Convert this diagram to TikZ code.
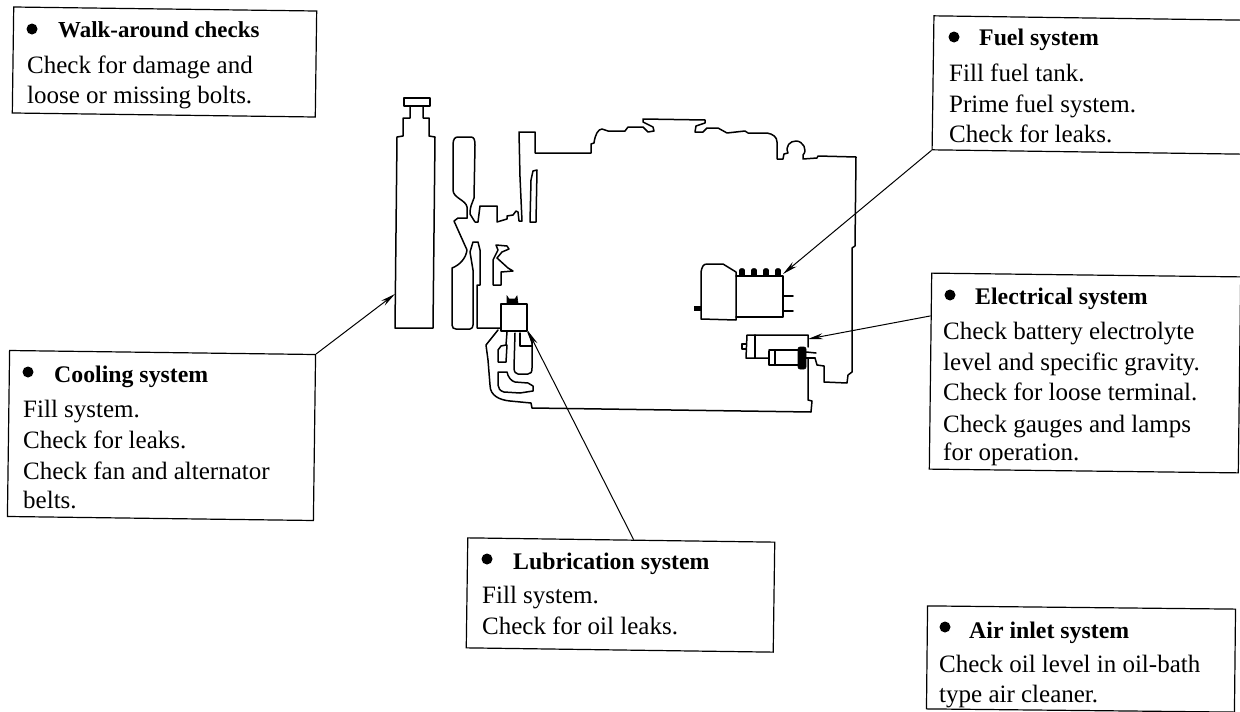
\documentclass[tikz,border=0pt]{standalone}
\usepackage{fontspec}
\setmainfont{Liberation Serif}
\usetikzlibrary{arrows.meta,calc}
\tikzset{
  x=1pt,y=-1pt,
  boxnode/.style={draw=black,line width=1.2pt,inner sep=0pt,fill=none},
  head/.style={anchor=base west,inner sep=0pt,font=\fontsize{23.8}{24}\selectfont\bfseries},
  headsmall/.style={anchor=base west,inner sep=0pt,font=\fontsize{22.9}{24}\selectfont\bfseries},
  body/.style={anchor=base west,inner sep=0pt,font=\fontsize{25}{25}\selectfont},
  bulletdot/.style={circle,fill=black,inner sep=0pt,minimum size=11pt},
  eng/.style={line width=1.5pt,line join=round,line cap=round},
  blk/.style={fill=black,draw=black,line width=.6pt},
  lead/.style={line width=1pt,-{Stealth[length=15pt,width=6pt]}}
}
\begin{document}
\begin{tikzpicture}
\useasboundingbox (0,0) rectangle (1240,712);
% boxes
\node[boxnode,minimum width=303pt,minimum height=106pt,rotate=-.76] (walk) at (164.5,62) {};
\node[boxnode,minimum width=306pt,minimum height=166pt,rotate=-.75] (cool) at (161.5,435.5) {};
\node[boxnode,minimum width=307pt,minimum height=110pt,rotate=-.8] (lub) at (620.5,595) {};
\node[boxnode,minimum width=312pt,minimum height=134pt,rotate=-.8] (fuel) at (1089,85) {};
\node[boxnode,minimum width=309pt,minimum height=196pt,rotate=-.7] (elec) at (1085,373) {};
\node[boxnode,minimum width=308pt,minimum height=103pt,rotate=-.6] (air) at (1081,659) {};
% Walk
\node[bulletdot] (w0) at (32,29) {};
\node[headsmall] (w1) at (58,37) {Walk-around checks};
\node[body] (w2) at (27,73) {Check for damage and};
\node[body] (w3) at (27,103) {loose or missing bolts.};
% Cooling
\node[bulletdot] (c0) at (28,372) {};
\node[head] (c1) at (54,382) {Cooling system};
\node[body] (c2) at (23,417) {Fill system.};
\node[body] (c3) at (23,448) {Check for leaks.};
\node[body] (c4) at (23,479) {Check fan and alternator};
\node[body] (c5) at (23,508) {belts.};
% Lubrication
\node[bulletdot] (l0) at (487,559) {};
\node[head] (l1) at (513,569) {Lubrication system};
\node[body] (l2) at (482,603) {Fill system.};
\node[body] (l3) at (482,634) {Check for oil leaks.};
% Fuel
\node[bulletdot] (f0) at (954,37) {};
\node[head] (f1) at (979,45) {Fuel system};
\node[body] (f2) at (949,81) {Fill fuel tank.};
\node[body] (f3) at (949,112) {Prime fuel system.};
\node[body] (f4) at (949,142) {Check for leaks.};
% Electrical
\node[bulletdot] (e0) at (950,295) {};
\node[head] (e1) at (975,304) {Electrical system};
\node[body] (e2) at (943,339) {Check battery electrolyte};
\node[body] (e3) at (943,370) {level and specific gravity.};
\node[body] (e4) at (943,400) {Check for loose terminal.};
\node[body] (e5) at (943,432) {Check gauges and lamps};
\node[body] (e6) at (943,460) {for operation.};
% Air
\node[bulletdot] (a0) at (945,627) {};
\node[head] (a1) at (969,638) {Air inlet system};
\node[body] (a2) at (939,672) {Check oil level in oil-bath};
\node[body] (a3) at (939,702) {type air cleaner.};
% radiator
\draw[eng] (395,328) -- (397,137) -- (403,136) -- (403,118) -- (410,118) -- (410,106) -- (423,106) -- (423,118) -- (429,118) -- (429,136) -- (435,137) -- (433,328) -- cycle;
\draw[eng] (404,98) rectangle (430,106);
% shroud and engine top, running round to the lower right
\draw[eng] (467,218) -- (467,207) .. controls (466,200) and (453,198) .. (453,190) -- (453,145) .. controls (453,139) and (455,137) .. (458,137) -- (471,137) .. controls (474,137) and (475,140) .. (475,145) -- (474,198) .. controls (472,204) and (470,206) .. (470,214) -- (475,222) -- (478,222) -- (480,206) -- (497,206) -- (497,222) -- (507,219) -- (507,216) -- (513,215) -- (516,211) -- (518,212) -- (519,221) -- (522,221) -- (520,177) -- (519,132) -- (535,132) -- (535,153) -- (591,153) -- (591,144) -- (594,143) .. controls (595,135) and (598,129) .. (602,129) -- (608,131) -- (625,131) -- (628,127) -- (643,127) -- (648,132) -- (654,131) -- (653,127) -- (643,122) -- (643,119) -- (705,120) -- (705,123) -- (696,126) -- (695,132) -- (703,132) -- (707,128) -- (718,128) -- (727,133) -- (745,131) -- (748,133) -- (767,133) .. controls (773,134) and (777,137) .. (777,142) -- (777,159) -- (783,159) -- (784,154) -- (788,153) .. controls (785,146) and (790,141) .. (796,141) .. controls (803,141) and (808,150) .. (803,155) -- (803,159) -- (817,158) -- (818,156) -- (856,157) -- (855,246) -- (852,248) -- (852,372) -- (848,375) -- (847,383) -- (824,382) -- (824,366) -- (817,365) -- (815,358) -- (808,358);
\draw[eng] (808,358) -- (808,400) -- (812,401) -- (811,412) -- (532,408) -- (531,403) -- (510,401) .. controls (500,400) and (490,396) .. (490,385) -- (488,360) -- (486,345) -- (498,330);
% lower shroud
\draw[eng] (467,218) -- (458,218) -- (454,221) -- (467,250) .. controls (466,258) and (460,265) .. (452,268) -- (452,325) .. controls (452,328) and (454,329) .. (456,329) -- (470,329) .. controls (472,329) and (473,327) .. (473,325) -- (473,270) -- (470,252) -- (473,242) -- (478,242) -- (480,250) -- (480,285) -- (477,285) -- (477,328) -- (501,328);
% thin bar
\draw[eng] (530,222) -- (531,180) -- (533,171) -- (537,170) -- (536,222) -- cycle;
% hook
\draw[eng] (493,285) -- (493,260) -- (498,250) -- (496,245) -- (507,246) -- (509,249) -- (502,252) -- (497,258) -- (508,268) -- (513,271) -- (501,272) -- (501,285) -- cycle;
% oil filter
\draw[eng,line width=1.8pt] (501,304) rectangle (527,331);
\fill[blk] (507,296) -- (509,299) -- (515,299) -- (517,296) -- (518,303) -- (507,303) -- cycle;
\draw[eng] (507,332) -- (506,345) -- (501,346) -- (498,350) -- (498,362) -- (506,362) -- (507,345);
\draw[eng] (515,333) -- (514,368) .. controls (514,372) and (516,374) .. (518,374) -- (528,374) .. controls (531,374) and (532,372) .. (532,368) -- (532,342) -- (528,332);
\draw[eng] (520,333) -- (520,346) -- (532,346);
\draw[eng] (498,372) -- (507,372) .. controls (508,377) and (511,381) .. (515,382) -- (528,383) -- (533,386) -- (533,391) -- (520,393) -- (504,392) .. controls (500,391) and (498,388) .. (498,385) -- cycle;
% fuel pump
\draw[eng] (701,272) .. controls (702,267) and (703,264) .. (707,264) -- (723,264) -- (736,272) -- (736,320) -- (701,319) -- cycle;
\draw[eng] (736,276) -- (783,276) -- (783,317) -- (736,317);
\fill[blk] (694,306) rectangle (701,310);
\foreach \bx in {742,754,766,778} \fill[blk] (\bx-2.5,275) -- (\bx-2.5,270) .. controls (\bx-2,268) and (\bx+2,268) .. (\bx+2.5,270) -- (\bx+2.5,275) -- cycle;
\draw[eng] (783,296) -- (793,296);
\draw[eng] (783,311) -- (793,311);
% alternator and starter
\draw[eng] (808,347) -- (808,335) -- (747,335) -- (746,358) -- (768,358);
\draw[eng] (755,335) -- (755,358);
\draw[eng] (746,344) -- (742,344) -- (742,349) -- (746,349);
\draw[eng] (769,351) -- (769,365) -- (800,365);
\draw[eng] (769,350) -- (800,350);
\draw[eng] (775,350) -- (775,365);
\fill[blk,rounded corners=2pt] (798,347) rectangle (806,369);
\draw[eng] (806,352) -- (816,353);
\draw[eng] (806,358) -- (815,358);
% connectors
\coordinate (tf) at (783,274);
\coordinate (te) at (808,339);
\coordinate (tc) at (395,294);
\coordinate (tl) at (528,331);
\draw[lead] (fuel.south west) -- (tf);
\draw[lead] ($(elec.north west)!.22!(elec.south west)$) -- (te);
\draw[lead] (cool.north east) -- (tc);
\draw[lead] ($(lub.north west)!.54!(lub.north east)$) -- (tl);
\end{tikzpicture}
\end{document}
